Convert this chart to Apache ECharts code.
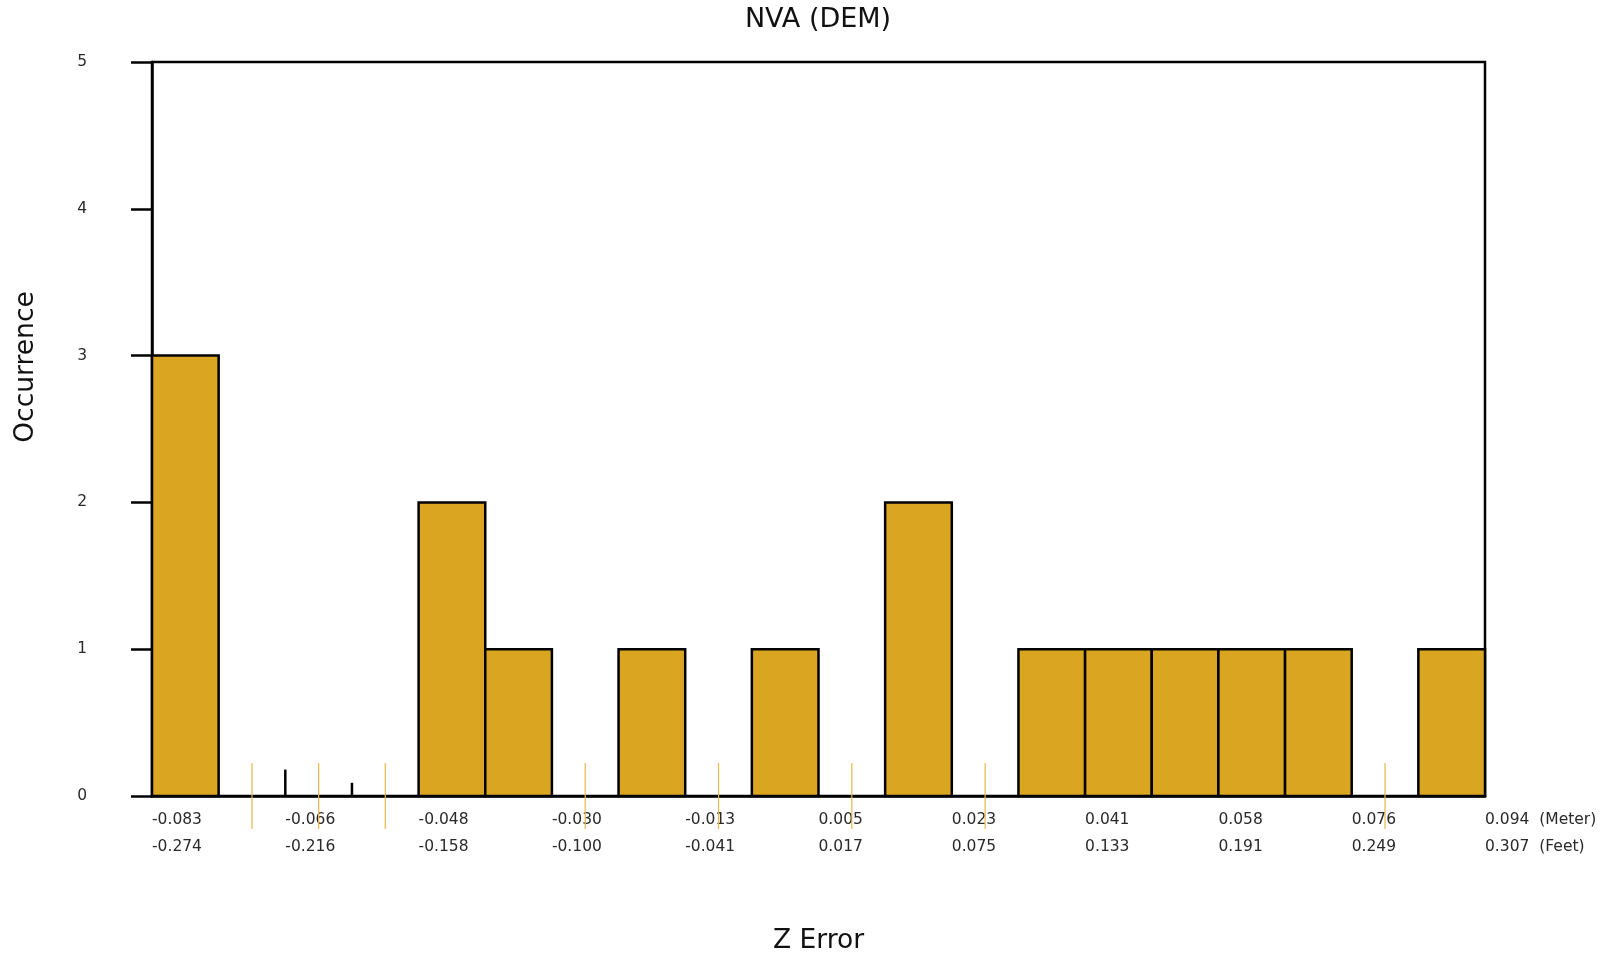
<!DOCTYPE html>
<html>
<head>
<meta charset="utf-8">
<script src="https://cdn.jsdelivr.net/npm/echarts@6/dist/echarts.min.js"></script>
<style>
  html, body { margin: 0; padding: 0; background: #fff; }
  #chart { width: 1610px; height: 957px; }
</style>
</head>
<body>
<div id="chart"></div>
<script>
// Histogram bins (bin index 0..19), counts per bin
const binCounts = [3, 0, 0, 0, 2, 1, 0, 1, 0, 1, 0, 2, 0, 1, 1, 1, 1, 1, 0, 1];
// Tick labels (every 2 bins)
const meterLabels = ['-0.083', '-0.066', '-0.048', '-0.030', '-0.013', '0.005', '0.023', '0.041', '0.058', '0.076', '0.094'];
const feetLabels  = ['-0.274', '-0.216', '-0.158', '-0.100', '-0.041', '0.017', '0.075', '0.133', '0.191', '0.249', '0.307'];
// Small black stubs at bin boundaries: [binPosition, height]
const stubs = [[2, 0.18], [3, 0.09]];
// Thin gold markers at centres of empty bins (bin position units)
const markerPositions = [1.5, 2.5, 3.5, 6.5, 8.5, 10.5, 12.5, 18.5];
const yTicks = [0, 1, 2, 3, 4, 5];

const chart = echarts.init(document.getElementById('chart'));
const FONT = 'DejaVu Sans';

chart.setOption({
  animation: false,
  backgroundColor: '#fff',
  grid: {
    left: 152, right: 125, top: 62, bottom: 161,
    outerBoundsMode: 'none', containLabel: false,
    show: true, borderColor: '#000', borderWidth: 2.5, backgroundColor: 'transparent'
  },
  xAxis: {
    type: 'value', min: 0, max: binCounts.length, interval: 2,
    name: 'Z Error', nameLocation: 'middle', nameGap: 132,
    nameTextStyle: { fontFamily: FONT, fontSize: 26.5, color: '#111' },
    axisLine: { show: true, onZero: false, lineStyle: { color: '#000', width: 2.5 } },
    axisTick: { show: false },
    splitLine: { show: false },
    axisLabel: {
      showMaxLabel: true, showMinLabel: true,
      align: 'left', margin: 10,
      fontFamily: FONT, fontSize: 15.5, color: '#2a2a2a', lineHeight: 27,
      formatter: function (v) {
        const i = Math.round(v / 2);
        const last = i === meterLabels.length - 1;
        return meterLabels[i] + (last ? '  (Meter)' : '') + '\n' + feetLabels[i] + (last ? '  (Feet)' : '');
      }
    }
  },
  yAxis: {
    type: 'value', min: yTicks[0], max: yTicks[yTicks.length - 1], interval: 1,
    axisLine: { show: true, lineStyle: { color: '#000', width: 2.5 } },
    axisTick: { show: true, length: 21, lineStyle: { color: '#000', width: 2.5 } },
    splitLine: { show: false },
    axisLabel: { margin: 65, fontFamily: FONT, fontSize: 15.5, color: '#2a2a2a' }
  },
  graphic: [
    {
      type: 'text', x: 818, y: 20,
      style: { text: 'NVA (DEM)', fontFamily: FONT, fontSize: 27, fill: '#111', align: 'center', verticalAlign: 'middle' }
    },
    {
      type: 'text', x: 26, y: 367, rotation: Math.PI / 2,
      style: { text: 'Occurrence', fontFamily: FONT, fontSize: 26.5, fill: '#111', align: 'center', verticalAlign: 'middle' }
    }
  ],
  series: [
    {
      type: 'custom',
      clip: false,
      data: markerPositions.map(p => [p, 0]),
      renderItem: function (params, api) {
        const c = api.coord([api.value(0), 0]);
        return {
          type: 'line',
          shape: { x1: c[0], y1: c[1] - 33, x2: c[0], y2: c[1] + 33 },
          style: { stroke: '#e8b84a', lineWidth: 1.2 }
        };
      },
      z: 1
    },
    {
      type: 'custom',
      data: binCounts.map((v, i) => [i, v]),
      renderItem: function (params, api) {
        const i = api.value(0), v = api.value(1);
        if (!v) return null;
        const p0 = api.coord([i, v]);
        const p1 = api.coord([i + 1, 0]);
        return {
          type: 'rect',
          shape: { x: p0[0], y: p0[1], width: p1[0] - p0[0], height: p1[1] - p0[1] },
          style: { fill: '#DAA520', stroke: '#000', lineWidth: 2.5 }
        };
      },
      z: 2
    },
    {
      type: 'custom',
      data: stubs,
      renderItem: function (params, api) {
        const a = api.coord([api.value(0), 0]);
        const b = api.coord([api.value(0), api.value(1)]);
        return {
          type: 'line',
          shape: { x1: a[0], y1: a[1], x2: b[0], y2: b[1] },
          style: { stroke: '#000', lineWidth: 2.5 }
        };
      },
      z: 3
    }
  ]
});
</script>
</body>
</html>
